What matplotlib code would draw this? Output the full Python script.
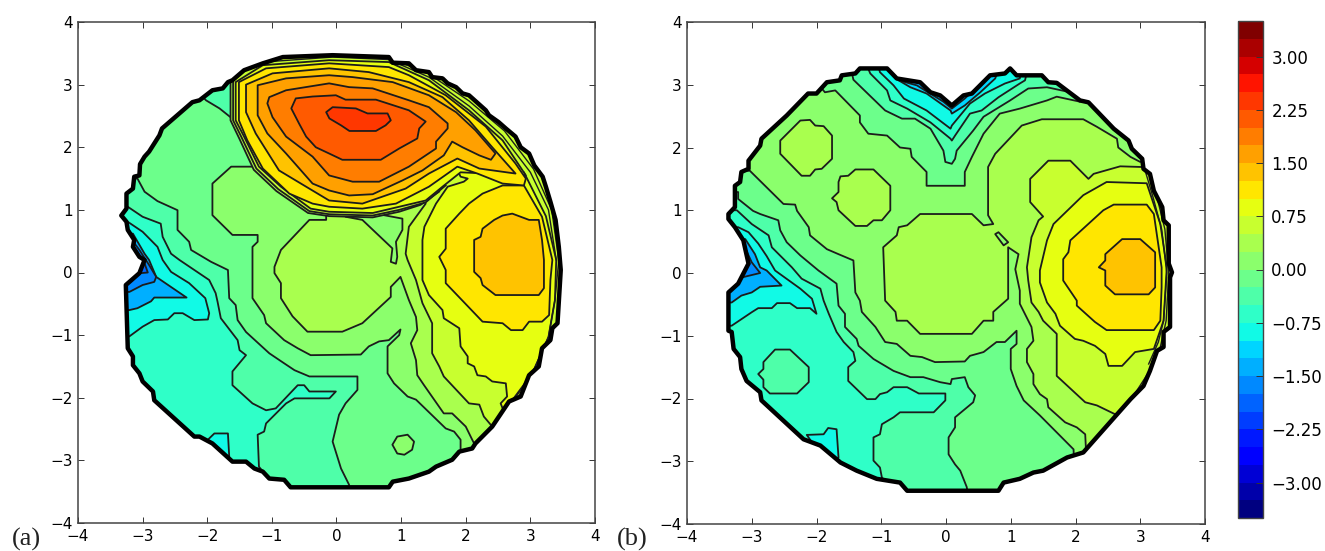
# -*- coding: utf-8 -*-
import matplotlib
matplotlib.use("Agg")
from matplotlib import pyplot as plt
from matplotlib.patches import Polygon
from matplotlib.colors import ListedColormap, BoundaryNorm
from matplotlib.colorbar import ColorbarBase
import numpy as np

# 28 bands between -3.5 and 3.5, a band is named by its index
band_edges = np.arange(-3.5, 3.51, 0.25)
bar_ticks = [-3.0, -2.25, -1.5, -0.75, 0.0, 0.75, 1.5, 2.25, 3.0]
axis_ticks = [-4, -3, -2, -1, 0, 1, 2, 3, 4]

# ---------- panel (a), outlines in axis units ----------
a_edge = [(-3.33, 0.91), (-3.25, 1.02), (-3.25, 1.26), (-3.15, 1.34), (-3.13, 1.53), (-3.05, 1.55), (-3.04, 1.73),
          (-2.97, 1.85), (-2.90, 1.93), (-2.74, 2.19), (-2.70, 2.30), (-2.23, 2.72), (-2.12, 2.75), (-1.92, 2.91),
          (-1.76, 2.94), (-1.68, 3.04), (-1.61, 3.07), (-1.43, 3.23), (-1.14, 3.34), (-0.83, 3.44), (-0.06, 3.47),
          (0.81, 3.44), (0.87, 3.35), (1.12, 3.34), (1.23, 3.23), (1.43, 3.20), (1.48, 3.12), (1.64, 3.10),
          (1.72, 3.02), (1.85, 2.96), (1.95, 2.86), (2.05, 2.83), (2.31, 2.59), (2.36, 2.51), (2.51, 2.40),
          (2.62, 2.30), (2.77, 2.17), (2.85, 2.0), (2.98, 1.90), (3.06, 1.71), (3.19, 1.53), (3.24, 1.37),
          (3.31, 1.13), (3.39, 0.84), (3.44, 0.41), (3.47, 0.04), (3.42, -0.81), (3.34, -0.89), (3.31, -1.08),
          (3.18, -1.21), (3.13, -1.50), (2.98, -1.64), (2.85, -1.98), (2.67, -2.06), (2.41, -2.46), (2.15, -2.73),
          (2.10, -2.81), (1.90, -2.86), (1.79, -2.99), (1.54, -3.10), (1.43, -3.18), (1.12, -3.29), (0.87, -3.34),
          (0.81, -3.43), (-0.71, -3.43), (-0.81, -3.31), (-1.04, -3.29), (-1.14, -3.18), (-1.27, -3.13), (-1.40, -3.02),
          (-1.61, -3.02), (-1.92, -2.73), (-2.12, -2.62), (-2.20, -2.62), (-2.82, -2.04), (-2.84, -1.90), (-3.0, -1.74),
          (-3.05, -1.61), (-3.15, -1.48), (-3.15, -1.34), (-3.23, -1.21), (-3.26, -0.20), (-3.05, -0.01), (-2.97, 0.2),
          (-3.05, 0.25), (-3.15, 0.41), (-3.13, 0.52), (-3.23, 0.68), (-3.25, 0.81)]
a_b10_left = [(-3.5, -1.02), (-3.205, -1.02), (-3.0, -0.865), (-2.82, -0.76), (-2.61, -0.75), (-2.51, -0.65),
              (-2.38, -0.65), (-2.20, -0.76), (-1.99, -0.75), (-1.97, -0.65), (-2.03, -0.41), (-2.28, -0.17),
              (-2.56, 0.01), (-2.69, 0.20), (-2.77, 0.41), (-3.0, 0.65), (-3.23, 0.81), (-3.5, 0.81)]
a_b10_foot = [(-2.02, -2.70), (-1.89, -2.57), (-1.68, -2.57), (-1.66, -2.94), (-1.8, -3.3), (-2.3, -3.0)]
a_b8 = [(-3.5, -0.60), (-3.205, -0.60), (-3.08, -0.57), (-2.87, -0.46), (-2.82, -0.40), (-2.32, -0.40), (-2.79, -0.07),
        (-2.90, 0.20), (-2.97, 0.30), (-3.15, 0.62), (-3.5, 0.62)]
a_b7 = [(-3.5, -0.31), (-3.205, -0.31), (-3.0, -0.20), (-2.82, -0.15), (-2.79, -0.07), (-2.90, 0.12), (-3.05, 0.36),
        (-3.18, 0.54), (-3.5, 0.54)]
a_b6 = [(-3.5, -0.01), (-3.025, -0.01), (-2.92, 0.0), (-2.97, 0.146), (-3.025, 0.2), (-3.5, 0.2)]
a_b12 = [(-3.5, 1.05), (-3.23, 1.05), (-3.0, 0.89), (-2.72, 0.78), (-2.69, 0.57), (-2.56, 0.30), (-2.43, 0.2),
         (-1.97, -0.12), (-1.87, -0.33), (-1.84, -0.47), (-1.79, -0.73), (-1.53, -1.08), (-1.50, -1.24),
         (-1.40, -1.32), (-1.61, -1.58), (-1.61, -1.80), (-1.30, -2.09), (-1.09, -2.20), (-0.94, -2.17), (-0.60, -1.80),
         (-0.50, -1.80), (-0.42, -1.90), (-0.01, -1.90), (-0.11, -2.01), (-0.65, -2.01), (-0.78, -2.09), (-1.09, -2.41),
         (-1.12, -2.54), (-1.22, -2.59), (-1.20, -3.10), (-1.14, -3.18), (-1.1, -3.6), (3.8, -3.6), (3.8, 3.8),
         (-3.5, 3.8)]
a_b13 = [(-3.5, 1.50), (-3.08, 1.50), (-2.97, 1.29), (-2.77, 1.14), (-2.46, 0.995), (-2.46, 0.68), (-2.28, 0.49),
         (-2.25, 0.36), (-1.94, 0.17), (-1.68, 0.04), (-1.66, -0.41), (-1.56, -0.52), (-1.53, -0.76), (-1.40, -0.95),
         (-1.04, -1.29), (-0.81, -1.45), (-0.65, -1.56), (-0.42, -1.66), (0.324, -1.66), (0.324, -1.875), (0.14, -2.09),
         (0.04, -2.27), (-0.06, -2.70), (0.07, -3.13), (0.195, -3.39), (0.2, -3.6), (3.8, -3.6), (3.8, 3.8),
         (-1.3, 3.8), (-1.3, 2.1), (-1.58, 2.43), (-1.81, 2.62), (-2.02, 2.75), (-2.15, 2.9), (-3.5, 3.1)]
a_b14 = [(1.92, -3.6), (1.92, -2.67), (1.82, -2.54), (1.69, -2.49), (1.23, -2.03), (1.10, -1.98), (0.89, -1.77),
         (0.79, -1.61), (0.79, -1.18), (0.97, -1.0), (0.99, -0.91), (0.81, -1.08), (0.66, -1.10), (0.50, -1.18),
         (0.376, -1.31), (-0.40, -1.32), (-0.60, -1.21), (-0.81, -1.08), (-1.09, -0.81), (-1.12, -0.68), (-1.30, -0.41),
         (-1.30, 0.41), (-1.22, 0.49), (-1.22, 0.60), (-1.61, 0.60), (-1.92, 0.915), (-1.92, 1.42), (-1.63, 1.69),
         (-1.2, 1.69), (-1.2, 1.9), (-1.45, 2.4), (-1.45, 3.8), (3.8, 3.8), (3.8, -3.6)]
a_b15 = [(2.13, -3.6), (2.13, -2.73), (2.10, -2.67), (2.0, -2.46), (1.79, -2.25), (1.66, -2.25), (1.355, -1.80),
         (1.25, -1.64), (1.23, -1.40), (1.15, -1.13), (1.25, -0.92), (1.23, -0.71), (1.12, -0.44), (0.99, -0.07),
         (0.84, -0.23), (0.84, -0.39), (0.40, -0.81), (0.09, -0.945), (-0.45, -0.945), (-0.68, -0.70), (-0.86, -0.41),
         (-0.86, -0.17), (-0.96, -0.01), (-0.96, 0.09), (-0.86, 0.36), (-0.42, 0.84), (-0.16, 0.84), (-0.16, 1.0),
         (-0.2, 1.3), (-1.45, 2.4), (-1.45, 3.8), (3.8, 3.8), (3.8, -3.6)]
a_pocket = [(0.14, 0.89), (0.40, 0.84), (0.865, 0.385), (0.84, 0.17), (0.92, 0.14), (0.94, 0.25), (0.92, 0.49),
            (1.02, 0.68), (1.02, 0.86), (0.71, 0.92)]
a_spot = [(0.865, -2.75), (0.94, -2.62), (1.10, -2.59), (1.20, -2.70), (1.17, -2.83), (1.05, -2.91), (0.94, -2.89)]
a_b16 = [(2.41, -3.6), (2.41, -2.46), (2.28, -2.30), (2.21, -2.11), (2.05, -2.09), (1.66, -1.66), (1.59, -1.50),
         (1.48, -1.29), (1.48, -0.81), (1.33, -0.49), (1.23, -0.12), (1.10, 0.2), (1.07, 0.30), (1.12, 0.73),
         (1.38, 1.10), (1.3, 1.4), (-1.45, 2.4), (-1.45, 3.8), (3.8, 3.8), (3.8, -3.6)]
a_b17 = [(2.59, -2.22), (2.54, -2.09), (2.64, -1.98), (2.62, -1.77), (2.41, -1.74), (2.31, -1.66), (2.18, -1.64),
         (2.13, -1.50), (2.03, -1.45), (2.03, -1.34), (1.92, -1.18), (1.90, -0.89), (1.66, -0.73), (1.64, -0.60),
         (1.43, -0.36), (1.33, -0.12), (1.33, 0.52), (1.36, 0.73), (1.54, 1.10), (1.72, 1.37), (1.97, 1.45),
         (2.03, 1.50), (1.92, 1.53), (1.85, 1.69), (2.9, 1.6), (3.24, 0.9), (3.40, 0.2), (3.38, -0.44), (3.28, -1.03),
         (3.03, -1.61)]
a_b18 = [(2.57, 1.39), (2.26, 1.26), (2.05, 1.10), (1.90, 0.94), (1.69, 0.70), (1.69, 0.38), (1.59, 0.25), (1.69, 0.04),
         (1.69, -0.17), (2.26, -0.785), (2.57, -0.81), (2.70, -0.92), (2.88, -0.92), (2.98, -0.785), (3.18, -0.785),
         (3.29, -0.68), (3.31, -0.12), (3.34, 0.2), (3.18, 0.89), (2.90, 1.39)]
a_b19 = [(2.44, 0.84), (2.26, 0.70), (2.23, 0.57), (2.13, 0.52), (2.13, 0.01), (2.23, -0.09), (2.26, -0.20),
         (2.46, -0.36), (3.13, -0.36), (3.21, -0.25), (3.21, 0.2), (3.18, 0.52), (3.13, 0.84), (2.98, 0.84),
         (2.72, 0.94), (2.57, 0.91)]
# the raised lobe at the top, outer to inner
a_lobe15 = [(-1.2, 3.8), (-1.64, 3.2), (-1.64, 2.43), (-1.50, 2.13), (-1.28, 1.64), (-0.93, 1.30), (-0.44, 0.95),
            (-0.114, 0.90), (0.56, 0.88), (0.97, 0.97), (1.3, 1.08), (1.6, 1.3)]
a_lobe16 = [(-1.2, 3.8), (-1.60, 3.2), (-1.60, 2.43), (-1.47, 2.16), (-1.24, 1.66), (-0.90, 1.33), (-0.42, 0.98),
            (-0.114, 0.93), (0.56, 0.91), (0.97, 1.0), (1.38, 1.12), (1.7, 1.4)]
a_lobe17 = [(-0.114, 3.39), (0.81, 3.36), (1.43, 3.07), (2.05, 2.59), (2.57, 2.11), (2.93, 1.55), (1.92, 1.6),
            (1.64, 1.37), (1.38, 1.15), (0.97, 1.05), (0.56, 0.95), (-0.114, 0.97), (-0.40, 1.02), (-0.86, 1.37),
            (-1.20, 1.69), (-1.43, 2.17), (-1.56, 2.43), (-1.56, 3.04), (-1.14, 3.31)]
a_lobe18 = [(-0.114, 3.34), (0.81, 3.28), (1.12, 3.15), (1.69, 2.83), (2.31, 2.33), (2.77, 1.74), (2.93, 1.50),
            (2.90, 1.39), (2.57, 1.42), (2.18, 1.58), (1.87, 1.69), (1.43, 1.37), (0.92, 1.10), (0.40, 1.02),
            (-0.114, 1.05), (-0.37, 1.10), (-0.73, 1.26), (-1.14, 1.66), (-1.38, 2.11), (-1.51, 2.43), (-1.51, 3.04),
            (-1.09, 3.26)]
a_lobe19 = [(-0.114, 3.26), (0.50, 3.20), (1.12, 3.04), (1.64, 2.80), (2.05, 2.43), (2.41, 2.0), (2.77, 1.58),
            (2.21, 1.66), (1.87, 1.82), (1.43, 1.58), (1.07, 1.34), (0.40, 1.10), (-0.114, 1.15), (-0.47, 1.37),
            (-0.89, 1.63), (-1.25, 2.22), (-1.40, 2.56), (-1.40, 3.0), (-0.99, 3.18)]
a_lobe20 = [(-0.114, 3.15), (0.25, 3.12), (0.87, 3.04), (1.43, 2.83), (1.85, 2.56), (2.15, 2.27), (2.46, 1.90),
            (2.39, 1.80), (2.21, 1.87), (1.95, 2.0), (1.79, 2.09), (1.66, 1.87), (1.33, 1.63), (1.02, 1.47), (0.56, 1.25),
            (0.195, 1.23), (-0.114, 1.31), (-0.37, 1.42), (-0.78, 1.90), (-1.07, 2.22), (-1.22, 2.51), (-1.22, 2.99),
            (-0.78, 3.10)]
a_lobe21 = [(-0.114, 3.02), (0.195, 2.96), (0.56, 2.94), (1.12, 2.75), (1.43, 2.64), (1.72, 2.38), (1.72, 2.30),
            (1.54, 2.09), (1.54, 1.98), (1.12, 1.69), (0.66, 1.45), (0.25, 1.45), (-0.114, 1.55), (-0.37, 1.85),
            (-0.78, 2.17), (-0.99, 2.48), (-1.07, 2.70), (-1.04, 2.80), (-0.78, 2.91)]
a_lobe22 = [(-0.01, 2.83), (0.14, 2.76), (0.61, 2.76), (1.12, 2.59), (1.38, 2.41), (1.28, 2.30), (1.25, 2.14),
            (0.97, 1.98), (0.685, 1.80), (0.09, 1.80), (-0.114, 1.90), (-0.32, 2.0), (-0.47, 2.17), (-0.58, 2.38),
            (-0.70, 2.62), (-0.63, 2.78), (-0.37, 2.81)]
a_lobe23 = [(-0.16, 2.56), (-0.06, 2.64), (0.30, 2.62), (0.48, 2.54), (0.79, 2.54), (0.84, 2.43), (0.76, 2.35),
            (0.61, 2.26), (0.20, 2.26), (0.07, 2.35), (-0.11, 2.46)]
a_rim1 = [(-1.14, 3.36), (-0.06, 3.44), (0.81, 3.40), (1.43, 3.12), (2.05, 2.66), (2.57, 2.18), (3.0, 1.60),
          (3.28, 1.0), (3.40, 0.2)]
a_rim2 = [(0.81, 3.43), (1.43, 3.17), (2.05, 2.74), (2.6, 2.26), (3.05, 1.65), (3.33, 1.0), (3.44, 0.2), (3.38, -0.44),
          (3.28, -1.03), (3.03, -1.61), (2.62, -2.22)]
a_layers = [(12, a_b12), (10, a_b10_left), (10, a_b10_foot), (8, a_b8), (7, a_b7), (6, a_b6), (13, a_b13), (14, a_b14),
            (15, a_b15), (14, a_pocket), (14, a_spot), (16, a_b16), (17, a_b17), (18, a_b18), (19, a_b19),
            (15, a_lobe15), (16, a_lobe16), (17, a_lobe17), (18, a_lobe18), (19, a_lobe19), (20, a_lobe20),
            (21, a_lobe21), (22, a_lobe22), (23, a_lobe23)]
a_rims = [a_rim1, a_rim2]

# ---------- panel (b) ----------
b_edge = [(-3.36, 0.94), (-3.26, 1.05), (-3.26, 1.39), (-3.18, 1.45), (-3.16, 1.61), (-3.05, 1.66), (-3.05, 1.79),
          (-2.87, 2.03), (-2.85, 2.14), (-2.46, 2.51), (-2.13, 2.86), (-2.0, 2.86), (-1.84, 3.04), (-1.64, 3.07),
          (-1.61, 3.15), (-1.40, 3.18), (-1.33, 3.26), (-0.91, 3.26), (-0.76, 3.10), (-0.40, 3.04), (-0.24, 2.88),
          (-0.09, 2.83), (0.09, 2.67), (0.27, 2.83), (0.40, 2.86), (0.68, 3.15), (0.91, 3.18), (0.99, 3.26), (1.09, 3.15),
          (1.48, 3.15), (1.58, 3.04), (1.71, 3.03), (2.07, 2.75), (2.20, 2.72), (2.59, 2.30), (2.82, 2.11), (2.87, 1.98),
          (3.03, 1.82), (3.05, 1.66), (3.15, 1.58), (3.21, 1.31), (3.34, 1.05), (3.36, 0.84), (3.44, 0.76), (3.44, 0.15),
          (3.49, 0.01), (3.46, -0.07), (3.46, -0.86), (3.36, -0.94), (3.36, -1.18), (3.26, -1.24), (3.15, -1.56),
          (3.05, -1.80), (2.85, -2.01), (2.12, -2.86), (1.87, -2.94), (1.50, -3.15), (1.35, -3.18), (1.14, -3.28),
          (0.89, -3.34), (0.81, -3.47), (-0.60, -3.47), (-0.71, -3.34), (-1.07, -3.28), (-1.38, -3.15), (-1.63, -3.02),
          (-1.94, -2.75), (-2.20, -2.65), (-2.85, -2.03), (-2.87, -1.90), (-3.08, -1.72), (-3.16, -1.53), (-3.18, -1.34),
          (-3.28, -1.21), (-3.31, -0.94), (-3.36, -0.92), (-3.36, -0.31), (-3.21, -0.17), (-3.05, 0.15), (-3.13, 0.52),
          (-3.26, 0.73), (-3.36, 0.86)]
b_b10_left = [(-3.5, -0.84), (-3.31, -0.84), (-3.0, -0.625), (-2.90, -0.56), (-2.69, -0.56), (-2.61, -0.48),
              (-2.41, -0.48), (-2.30, -0.56), (-2.10, -0.56), (-2.0, -0.65), (-2.07, -0.41), (-2.25, -0.25),
              (-2.64, 0.04), (-2.77, 0.27), (-2.90, 0.47), (-3.05, 0.65), (-3.21, 0.73), (-3.5, 0.73)]
b_b10_foot = [(-2.15, -2.58), (-1.89, -2.57), (-1.82, -2.47), (-1.69, -2.49), (-1.66, -2.94), (-1.8, -3.1)]
b_b8 = [(-3.5, -0.47), (-3.31, -0.47), (-3.16, -0.36), (-3.0, -0.31), (-2.87, -0.22), (-2.54, -0.20), (-2.77, 0.04),
        (-2.87, 0.09), (-2.95, 0.30), (-3.10, 0.54), (-3.5, 0.54)]
b_b7 = [(-3.5, -0.09), (-3.23, -0.09), (-3.03, -0.04), (-2.87, 0.0), (-3.0, 0.17), (-3.13, 0.46), (-3.5, 0.46)]
b_b12 = [(-3.5, 1.0), (-3.23, 1.0), (-3.0, 0.78), (-2.74, 0.60), (-2.69, 0.41), (-2.38, 0.09), (-2.23, -0.09),
         (-1.94, -0.25), (-1.89, -0.44), (-1.81, -0.65), (-1.69, -0.94), (-1.58, -1.10), (-1.43, -1.26), (-1.40, -1.40),
         (-1.51, -1.50), (-1.51, -1.72), (-1.22, -2.01), (-1.09, -2.01), (-1.02, -1.93), (-0.91, -1.90), (-0.81, -1.82),
         (-0.60, -1.82), (-0.42, -1.92), (-0.01, -1.92), (-0.01, -2.03), (-0.19, -2.22), (-0.71, -2.22), (-0.81, -2.30),
         (-0.99, -2.41), (-1.02, -2.57), (-1.12, -2.62), (-1.12, -2.99), (-1.02, -3.10), (-0.99, -3.26), (-0.91, -3.34),
         (-0.9, -3.6), (3.8, -3.6), (3.8, 3.4), (1.3, 3.4), (1.22, 3.07), (1.14, 3.02), (0.81, 2.80), (0.55, 2.59),
         (0.37, 2.54), (0.14, 2.19), (0.09, 2.11), (0.07, 2.14), (-0.24, 2.40), (-0.60, 2.62), (-0.86, 2.75),
         (-0.91, 2.91), (-1.17, 3.18), (-1.3, 3.5), (-3.5, 3.5)]
b_b13 = [(-3.5, 1.29), (-3.21, 1.29), (-3.21, 1.18), (-2.98, 0.99), (-2.87, 0.94), (-2.59, 0.84), (-2.56, 0.68),
         (-2.46, 0.49), (-2.25, 0.28), (-1.97, 0.04), (-1.69, -0.17), (-1.66, -0.52), (-1.56, -0.65), (-1.56, -0.86),
         (-1.38, -1.05), (-1.35, -1.16), (-1.12, -1.37), (-0.81, -1.56), (-0.55, -1.66), (-0.35, -1.66), (-0.09, -1.74),
         (0.07, -1.77), (0.09, -1.69), (0.29, -1.66), (0.345, -1.82), (0.45, -1.95), (0.42, -2.06), (0.14, -2.30),
         (0.14, -2.46), (0.04, -2.62), (0.04, -2.89), (0.14, -3.05), (0.22, -3.15), (0.32, -3.41), (0.35, -3.6),
         (3.8, -3.6), (3.8, 3.3), (2.0, 3.3), (1.92, 2.88), (1.56, 2.96), (1.27, 2.94), (0.99, 2.75), (0.58, 2.49),
         (0.42, 2.27), (0.165, 1.95), (0.14, 1.82), (0.09, 1.74), (-0.01, 1.77), (-0.04, 1.95), (-0.24, 2.30),
         (-0.48, 2.46), (-0.68, 2.46), (-0.94, 2.59), (-1.43, 3.08), (-1.5, 3.4), (-3.5, 3.4)]
b_b14 = [(-3.5, 1.63), (-3.03, 1.63), (-2.51, 1.10), (-2.33, 1.09), (-2.30, 0.99), (-2.12, 0.73), (-2.10, 0.60),
         (-1.84, 0.38), (-1.66, 0.30), (-1.43, 0.20), (-1.40, -0.31), (-1.33, -0.44), (-1.30, -0.62), (-1.09, -0.86),
         (-0.94, -1.10), (-0.76, -1.13), (-0.55, -1.32), (-0.37, -1.34), (-0.17, -1.42), (0.29, -1.41), (0.37, -1.32),
         (0.58, -1.26), (0.78, -1.10), (0.91, -1.10), (1.09, -0.92), (1.09, -1.13), (1.0, -1.21), (1.0, -1.53),
         (1.09, -1.80), (1.20, -2.03), (1.45, -2.27), (1.97, -2.81), (2.0, -3.6), (3.8, -3.6), (3.8, 3.3), (2.2, 3.3),
         (2.07, 2.73), (1.71, 2.81), (1.56, 2.75), (1.14, 2.62), (0.83, 2.54), (0.58, 2.22), (0.40, 1.85), (0.29, 1.61),
         (0.29, 1.39), (-0.30, 1.39), (-0.30, 1.61), (-0.53, 1.85), (-0.55, 1.98), (-0.71, 2.0), (-0.91, 2.19),
         (-1.20, 2.22), (-1.33, 2.40), (-1.33, 2.51), (-1.71, 2.91), (-1.87, 2.88), (-2.2, 3.3), (-3.5, 3.3)]
b_b15 = [(2.16, -3.6), (2.16, -2.78), (2.15, -2.57), (2.02, -2.46), (1.84, -2.38), (1.58, -2.14), (1.56, -2.01),
         (1.45, -1.93), (1.35, -1.77), (1.35, -1.61), (1.25, -1.42), (1.25, -1.21), (1.35, -1.08), (1.32, -0.86),
         (1.14, -0.49), (1.14, -0.28), (1.07, 0.06), (1.12, 0.30), (0.96, 0.41), (0.96, -0.41), (0.73, -0.62),
         (0.73, -0.76), (0.58, -0.76), (0.40, -0.97), (-0.40, -0.97), (-0.60, -0.76), (-0.76, -0.76), (-0.78, -0.62),
         (-0.94, -0.44), (-0.97, 0.41), (-0.76, 0.60), (-0.73, 0.73), (-0.60, 0.76), (-0.40, 0.94), (0.40, 0.94),
         (0.58, 0.76), (0.73, 0.78), (0.65, 0.92), (0.65, 1.69), (0.76, 1.90), (1.17, 2.35), (1.48, 2.45), (2.12, 2.45),
         (2.33, 2.33), (2.64, 2.14), (2.66, 2.0), (2.85, 1.85), (3.0, 1.77), (3.3, 1.9), (3.8, 1.9), (3.8, -3.6)]
b_dash = [(0.76, 0.62), (0.81, 0.65), (0.96, 0.49), (0.89, 0.44)]
b_b16 = [(2.61, -3.6), (2.61, -2.25), (2.33, -2.11), (2.15, -2.06), (1.71, -1.64), (1.71, -0.97), (1.50, -0.76),
         (1.43, -0.62), (1.32, -0.47), (1.27, -0.12), (1.25, 0.09), (1.32, 0.57), (1.43, 0.84), (1.50, 0.90),
         (1.30, 1.13), (1.30, 1.50), (1.58, 1.79), (1.92, 1.79), (2.20, 1.50), (2.28, 1.58), (2.69, 1.70), (3.0, 1.69),
         (3.8, 1.65), (3.8, -3.6)]
b_b17 = [(3.21, -1.21), (2.92, -1.26), (2.72, -1.48), (2.51, -1.48), (2.46, -1.29), (2.30, -1.16), (2.12, -1.08),
         (1.99, -1.05), (1.76, -0.84), (1.69, -0.65), (1.56, -0.47), (1.45, -0.15), (1.45, 0.04), (1.56, 0.52),
         (1.66, 0.78), (2.12, 1.24), (2.48, 1.45), (3.10, 1.43), (3.31, 0.78), (3.41, 0.09), (3.36, -0.76)]
b_b18 = [(1.81, 0.04), (1.81, -0.12), (2.02, -0.44), (2.02, -0.52), (2.30, -0.78), (2.48, -0.91), (3.21, -0.91),
         (3.31, -0.76), (3.33, -0.23), (3.33, 0.09), (3.21, 0.94), (3.10, 1.09), (2.59, 1.09), (2.43, 1.0), (1.92, 0.52),
         (1.89, 0.33), (1.81, 0.22)]
b_b19 = [(2.72, 0.54), (3.0, 0.54), (3.23, 0.33), (3.23, -0.23), (3.13, -0.34), (2.61, -0.34), (2.46, -0.20),
         (2.46, 0.04), (2.36, 0.09), (2.46, 0.20), (2.46, 0.30)]
b_hill1 = [(-2.56, 2.11), (-2.25, 2.43), (-2.10, 2.44), (-2.02, 2.35), (-1.89, 2.34), (-1.76, 2.19), (-1.76, 1.82),
           (-1.92, 1.66), (-2.02, 1.65), (-2.10, 1.55), (-2.23, 1.55), (-2.56, 1.90)]
b_hill2 = [(-1.63, 1.54), (-1.51, 1.55), (-1.40, 1.65), (-1.12, 1.65), (-0.86, 1.39), (-0.86, 1.0), (-0.99, 0.84),
           (-1.12, 0.84), (-1.22, 0.75), (-1.40, 0.75), (-1.66, 1.0), (-1.69, 1.13), (-1.76, 1.19), (-1.66, 1.29),
           (-1.66, 1.45)]
b_hill3 = [(-2.90, -1.61), (-2.82, -1.53), (-2.82, -1.42), (-2.64, -1.22), (-2.41, -1.22), (-2.12, -1.50),
           (-2.12, -1.74), (-2.30, -1.92), (-2.72, -1.92), (-2.82, -1.82), (-2.82, -1.70)]
b_top10 = [(-1.1, 3.5), (-1.02, 3.2), (-0.81, 2.99), (-0.65, 2.78), (-0.30, 2.59), (0.07, 2.30), (0.09, 2.35),
           (0.37, 2.70), (0.60, 2.86), (0.91, 3.02), (1.14, 3.10), (1.2, 3.5)]
b_top9 = [(-0.8, 3.5), (-0.78, 3.10), (-0.55, 2.96), (-0.30, 2.86), (0.07, 2.59), (0.09, 2.54), (0.29, 2.67),
          (0.53, 2.88), (0.76, 3.10), (0.9, 3.5)]
b_top8 = [(-0.75, 3.5), (-0.73, 3.07), (-0.45, 2.99), (-0.04, 2.73), (0.09, 2.62), (0.29, 2.78), (0.65, 3.13),
          (0.7, 3.5)]
b_rim1 = [(3.05, 1.72), (3.20, 1.2), (3.33, 0.7), (3.41, 0.0), (3.36, -0.76), (3.28, -1.1), (3.13, -1.45)]
b_rim2 = [(3.10, 1.72), (3.26, 1.2), (3.38, 0.7), (3.44, 0.0), (3.40, -0.76), (3.31, -1.18), (3.15, -1.55), (2.9, -1.95),
          (2.62, -2.3)]
b_layers = [(12, b_b12), (10, b_b10_left), (10, b_b10_foot), (8, b_b8), (7, b_b7), (12, b_hill3), (10, b_top10),
            (9, b_top9), (8, b_top8), (13, b_b13), (14, b_b14), (15, b_hill1), (15, b_hill2), (15, b_b15), (14, b_dash),
            (16, b_b16), (17, b_b17), (18, b_b18), (19, b_b19)]
b_rims = [b_rim1, b_rim2]

colors = [plt.get_cmap("jet", 28)(i) for i in range(28)]
LINE = "#1c1c1c"


def draw_panel(ax, edge, layers, rims, open_ones=()):
    # base band is 11, everything else gets painted over it and cut by the edge
    base = Polygon(edge, closed=True, fc=colors[11], ec="none", zorder=1)
    ax.add_patch(base)
    z = 2
    for band, pts in layers:
        closed = pts not in open_ones
        p = Polygon(pts, closed=closed, fc=colors[band], ec=LINE, lw=1.3, zorder=z, joinstyle="round")
        ax.add_patch(p)
        p.set_clip_path(base)
        z += 1
    for pts in rims:
        xs, ys = zip(*pts)
        line, = ax.plot(xs, ys, color=LINE, lw=1.0, zorder=z)
        line.set_clip_path(base)
    ax.add_patch(Polygon(edge, closed=True, fc="none", ec="black", lw=3.2, zorder=z + 1, joinstyle="round"))
    ax.set_xlim(-4, 4)
    ax.set_ylim(-4, 4)
    ax.set_xticks(axis_ticks)
    ax.set_yticks(axis_ticks)
    ax.tick_params(direction="in", length=4, width=0.7, top=True, right=True, labelsize=11, pad=4, color="#333333")
    for s in ax.spines.values():
        s.set_linewidth(1.1)
        s.set_color("#444444")


W, H = 1325.0, 551.0
fig = plt.figure(figsize=(13.25, 5.51), dpi=100)
ax1 = fig.add_axes([78 / W, (H - 523) / H, 517 / W, 501 / H])
ax2 = fig.add_axes([687 / W, (H - 524) / H, 518 / W, 502 / H])
draw_panel(ax1, a_edge, a_layers, a_rims, open_ones=(a_lobe15, a_lobe16))
draw_panel(ax2, b_edge, b_layers, b_rims)

fig.text(12 / W, (H - 546) / H, "(a)", family="Liberation Serif", fontsize=19, color="#222222")
fig.text(617 / W, (H - 546) / H, "(b)", family="Liberation Serif", fontsize=19, color="#222222")

cax = fig.add_axes([1238 / W, (H - 518) / H, 25 / W, 497 / H])
cb = ColorbarBase(cax, cmap=ListedColormap(colors), norm=BoundaryNorm(band_edges, 28), ticks=bar_ticks,
                  spacing="proportional", format="%.2f", drawedges=False)
cb.ax.set_yticklabels(["%.2f" % t if t >= 0 else "\u2212%.2f" % abs(t) for t in bar_ticks])
cb.minorticks_off()
cb.ax.tick_params(direction="in", length=5, width=0.7, labelsize=12, pad=6, color="#333333")
cb.outline.set_linewidth(1.0)
cb.outline.set_edgecolor("#444444")

plt.savefig("out.png", dpi=100)
